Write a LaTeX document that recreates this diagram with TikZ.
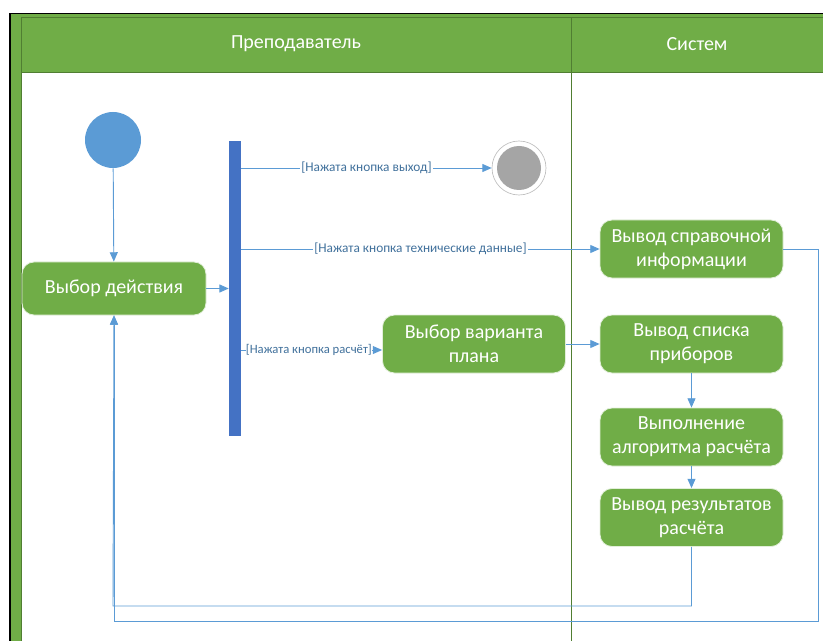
\documentclass[tikz,border=0pt]{standalone}
\usepackage{fontspec}
\setmainfont{Carlito}
\usetikzlibrary{arrows.meta}
\definecolor{lanegreen}{HTML}{70AD47}
\definecolor{lanedark}{HTML}{507E32}
\definecolor{flowblue}{HTML}{5B9BD5}
\definecolor{barblue}{HTML}{4472C4}
\definecolor{guardtext}{HTML}{41719C}
\definecolor{endgray}{HTML}{A5A5A5}
\tikzset{
  activity/.style={draw=white!80!lanegreen, line width=0.6pt, fill=lanegreen, rounded corners=9pt,
    text=white, align=center, font=\fontsize{15}{18}\selectfont,
    minimum width=137.25pt, minimum height=43.5pt, inner sep=2pt},
  flow/.style={draw=flowblue, line width=0.7pt, -{Triangle[length=7pt,width=6pt]}},
  guard/.style={fill=white, text=guardtext, font=\fontsize{10}{12}\selectfont, inner sep=0.8pt},
  lanetitle/.style={text=white, font=\fontsize{15}{17}\selectfont}
}
\begin{document}
\begin{tikzpicture}[x=0.75pt,y=-0.75pt]
\useasboundingbox (0,0) rectangle (823,641);
% pool frame and header
\fill[lanegreen] (10,14) rectangle (823,72);
\fill[lanegreen] (10,14) rectangle (21,641);
\draw[black, line width=1.3pt] (10,641) -- (10,13.5) -- (823,13.5);
\draw[lanedark, line width=0.6pt] (21,641) -- (21,17) -- (823,17);
\draw[lanedark, line width=0.6pt] (21,72) -- (823,72);
\draw[lanedark, line width=0.6pt] (571,17) -- (571,641);
\node[lanetitle] (laneA) at (296,44) {Преподаватель};
\node[lanetitle] (laneB) at (697,44) {Систем};

% nodes
\node[circle, fill=flowblue, minimum size=42pt, inner sep=0pt] (start) at (113,140) {};
\node[activity, minimum width=138pt, minimum height=39.75pt] (act) at (114,288.5) {Выбор действия};
\node[fill=barblue, minimum width=9pt, minimum height=221.25pt, inner sep=0pt] (fork) at (235,288.5) {};
\node[circle, draw=black!25, fill=white, line width=0.5pt, minimum size=40.5pt, inner sep=0pt] (stop) at (519,168) {};
\node[circle, fill=endgray, minimum size=33pt, inner sep=0pt] (stopin) at (519,168) {};
\node[activity] (plan) at (474,344) {Выбор варианта\\плана};
\node[activity] (info) at (691.5,249) {Вывод справочной\\информации};
\node[activity] (list) at (691.5,344) {Вывод списка\\приборов};
\node[activity] (algo) at (691.5,437) {Выполнение\\алгоритма расчёта};
\node[activity] (res) at (691.5,517.5) {Вывод результатов\\расчёта};

\coordinate (backA) at (113,606);
\coordinate (backB) at (818,621);

% flows
\draw[flow] (start) -- (act);
\draw[flow] (act.east) -- (fork.west |- act.east);
\draw[flow] (fork.east |- stop.west) -- node[guard] {[Нажата кнопка выход]} (stop.west);
\draw[flow] (fork.east |- info.west) -- node[guard] {[Нажата кнопка технические данные]} (info.west);
\draw[flow] (fork.east |- 0,350) -- node[guard, pos=0.48, inner sep=0pt, font=\fontsize{9.5}{11}\selectfont] {[Нажата кнопка расчёт]} (plan.west |- 0,350);
\draw[flow] (plan.east) -- (list.west);
\draw[flow] (list) -- (algo);
\draw[flow] (algo) -- (res);
\draw[flow] (res.south) |- (backA) -- (act.south);
\draw[flow] (info.east) -| (backB) -| (act.south);
\end{tikzpicture}
\end{document}
